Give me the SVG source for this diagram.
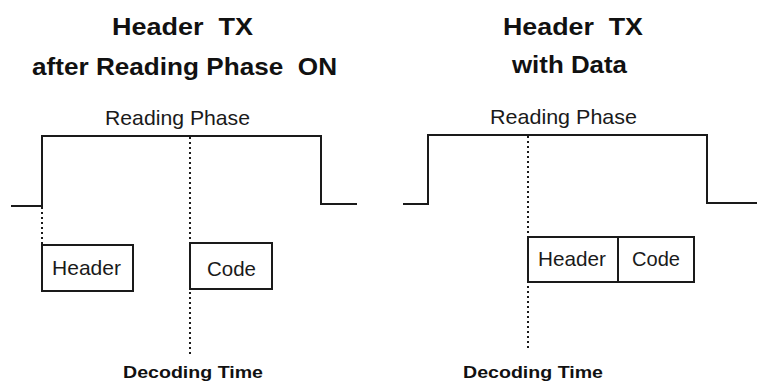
<svg xmlns="http://www.w3.org/2000/svg" width="757" height="381" viewBox="0 0 757 381">
<style>
.title{font-family:"Liberation Sans",Arial,sans-serif;font-weight:bold;font-size:24px;fill:#111}
.lbl{font-family:"Liberation Sans",Arial,sans-serif;font-size:21px;fill:#1a1a1a}
.dec{font-family:"Liberation Sans",Arial,sans-serif;font-weight:bold;font-size:17px;fill:#111}
.wave{fill:none;stroke:#1a1a1a;stroke-width:2}
.dot{fill:none;stroke:#1a1a1a;stroke-width:2;stroke-dasharray:2 3}
.box{fill:none;stroke:#1a1a1a;stroke-width:2}
</style>
<rect width="757" height="381" fill="#ffffff"/>
<g id="left-title">
<text class="title" x="112" y="35" textLength="141" lengthAdjust="spacingAndGlyphs" xml:space="preserve">Header  TX</text>
<text class="title" x="32" y="75" textLength="305" lengthAdjust="spacingAndGlyphs" xml:space="preserve">after Reading Phase  ON</text>
</g>
<g id="right-title">
<text class="title" x="503" y="35" textLength="140" lengthAdjust="spacingAndGlyphs" xml:space="preserve">Header  TX</text>
<text class="title" x="512" y="73" textLength="115" lengthAdjust="spacingAndGlyphs">with Data</text>
</g>
<g id="connectors">
<path class="wave" d="M11,206 H42 V136 H321 V204 H357"/>
<path class="wave" d="M403,204 H428 V135 H707 V203 H757"/>
<path class="dot" d="M42,207 V244"/>
<path class="dot" d="M190,137 V355"/>
<path class="dot" d="M528,136 V350"/>
</g>
<g id="left-reading-phase">
<text class="lbl" x="105" y="125" textLength="145" lengthAdjust="spacingAndGlyphs">Reading Phase</text>
</g>
<g id="right-reading-phase">
<text class="lbl" x="490" y="124" textLength="147" lengthAdjust="spacingAndGlyphs">Reading Phase</text>
</g>
<g id="left-header">
<rect class="box" x="42" y="245" width="91" height="46"/>
<text class="lbl" x="52" y="275" textLength="69" lengthAdjust="spacingAndGlyphs">Header</text>
</g>
<g id="left-code">
<rect class="box" x="190" y="243" width="82" height="46"/>
<text class="lbl" x="207" y="276" textLength="49" lengthAdjust="spacingAndGlyphs">Code</text>
</g>
<g id="right-header">
<rect class="box" x="528" y="237" width="90" height="45"/>
<text class="lbl" x="538" y="266" textLength="68" lengthAdjust="spacingAndGlyphs">Header</text>
</g>
<g id="right-code">
<rect class="box" x="618" y="237" width="76" height="45"/>
<text class="lbl" x="632" y="266" textLength="48" lengthAdjust="spacingAndGlyphs">Code</text>
</g>
<g id="left-decoding">
<text class="dec" x="123" y="378" textLength="140" lengthAdjust="spacingAndGlyphs">Decoding Time</text>
</g>
<g id="right-decoding">
<text class="dec" x="463" y="378" textLength="140" lengthAdjust="spacingAndGlyphs">Decoding Time</text>
</g>
</svg>
